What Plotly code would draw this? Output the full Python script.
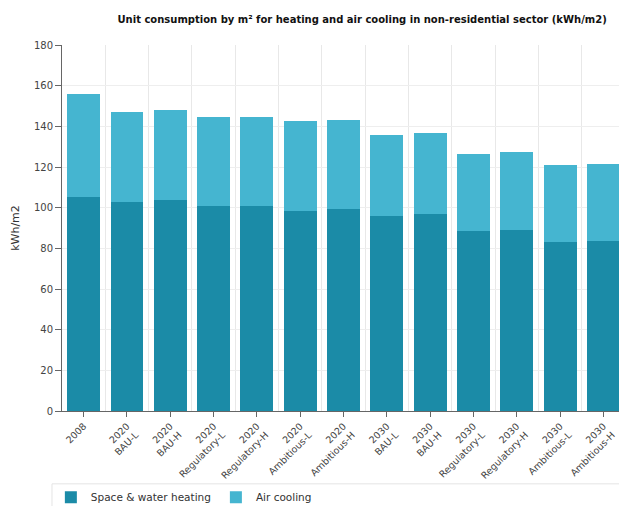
import plotly.graph_objects as go

categories = [
    "2008",
    "2020<br>BAU-L", "2020<br>BAU-H",
    "2020<br>Regulatory-L", "2020<br>Regulatory-H",
    "2020<br>Ambitious-L", "2020<br>Ambitious-H",
    "2030<br>BAU-L", "2030<br>BAU-H",
    "2030<br>Regulatory-L", "2030<br>Regulatory-H",
    "2030<br>Ambitious-L", "2030<br>Ambitious-H",
]
heating = [105.3, 102.6, 104.0, 101.0, 101.0, 98.4, 99.5, 95.9, 96.9, 88.7, 88.9, 83.3, 83.6]
totals = [155.9, 147.0, 148.2, 144.6, 144.6, 142.8, 142.9, 135.8, 136.7, 126.6, 127.2, 120.9, 121.5]
cooling = [round(t - h, 1) for t, h in zip(totals, heating)]
y_ticks = [0, 20, 40, 60, 80, 100, 120, 140, 160, 180]

xs = list(range(len(categories)))
fig = go.Figure()
fig.add_trace(go.Bar(x=xs, y=heating, name="Space &amp; water heating",
                     marker=dict(color="#1b8ba7", line=dict(width=0))))
fig.add_trace(go.Bar(x=xs, y=cooling, name="Air cooling",
                     marker=dict(color="#45b5d0", line=dict(width=0))))

# frame around the legend strip at the bottom
fig.add_shape(type="rect", xref="paper", yref="paper",
              x0=-0.018, x1=1.05, y0=-0.30, y1=-0.199,
              line=dict(color="#e4e4e4", width=1), fillcolor="rgba(0,0,0,0)",
              layer="below")

fig.update_layout(
    barmode="stack",
    bargap=0.24,
    width=619, height=506,
    margin=dict(l=62, r=0, t=45, b=95, autoexpand=False),
    paper_bgcolor="white", plot_bgcolor="white",
    font=dict(family="DejaVu Sans", size=10, color="#444"),
    title=dict(
        text="<b>Unit consumption by m² for heating and air cooling in non-residential sector (kWh/m2)</b>",
        x=0.585, xanchor="center", y=0.962, yanchor="middle",
        font=dict(family="DejaVu Sans", size=10, color="#111"),
    ),
    showlegend=True,
    legend=dict(
        orientation="h", x=-0.02, xanchor="left", y=-0.196, yanchor="top",
        borderwidth=0, bgcolor="rgba(0,0,0,0)",
        font=dict(size=10.5, color="#333"), itemwidth=30,
        traceorder="normal",
    ),
    xaxis=dict(
        range=[-0.5, 12.36],
        tickmode="array", tickvals=xs, ticktext=categories,
        tickangle=-45, ticks="outside", ticklen=5, tickcolor="#666",
        showline=True, linecolor="#666", linewidth=1,
        showgrid=False,
        minor=dict(tick0=0.5, dtick=1, showgrid=True, gridcolor="#e8e8e8",
                   gridwidth=1, ticks=""),
        tickfont=dict(size=9.5, color="#444"),
        zeroline=False,
    ),
    yaxis=dict(
        range=[0, 180], tickvals=y_ticks,
        ticks="outside", ticklen=6, tickcolor="#666",
        showline=True, linecolor="#666", linewidth=1,
        showgrid=True, gridcolor="#eeeeee", gridwidth=1,
        tickfont=dict(size=10, color="#444"),
        title=dict(text="kWh/m2", font=dict(size=11, color="#333"), standoff=12),
        zeroline=False,
    ),
)

fig.write_html("out.html")
